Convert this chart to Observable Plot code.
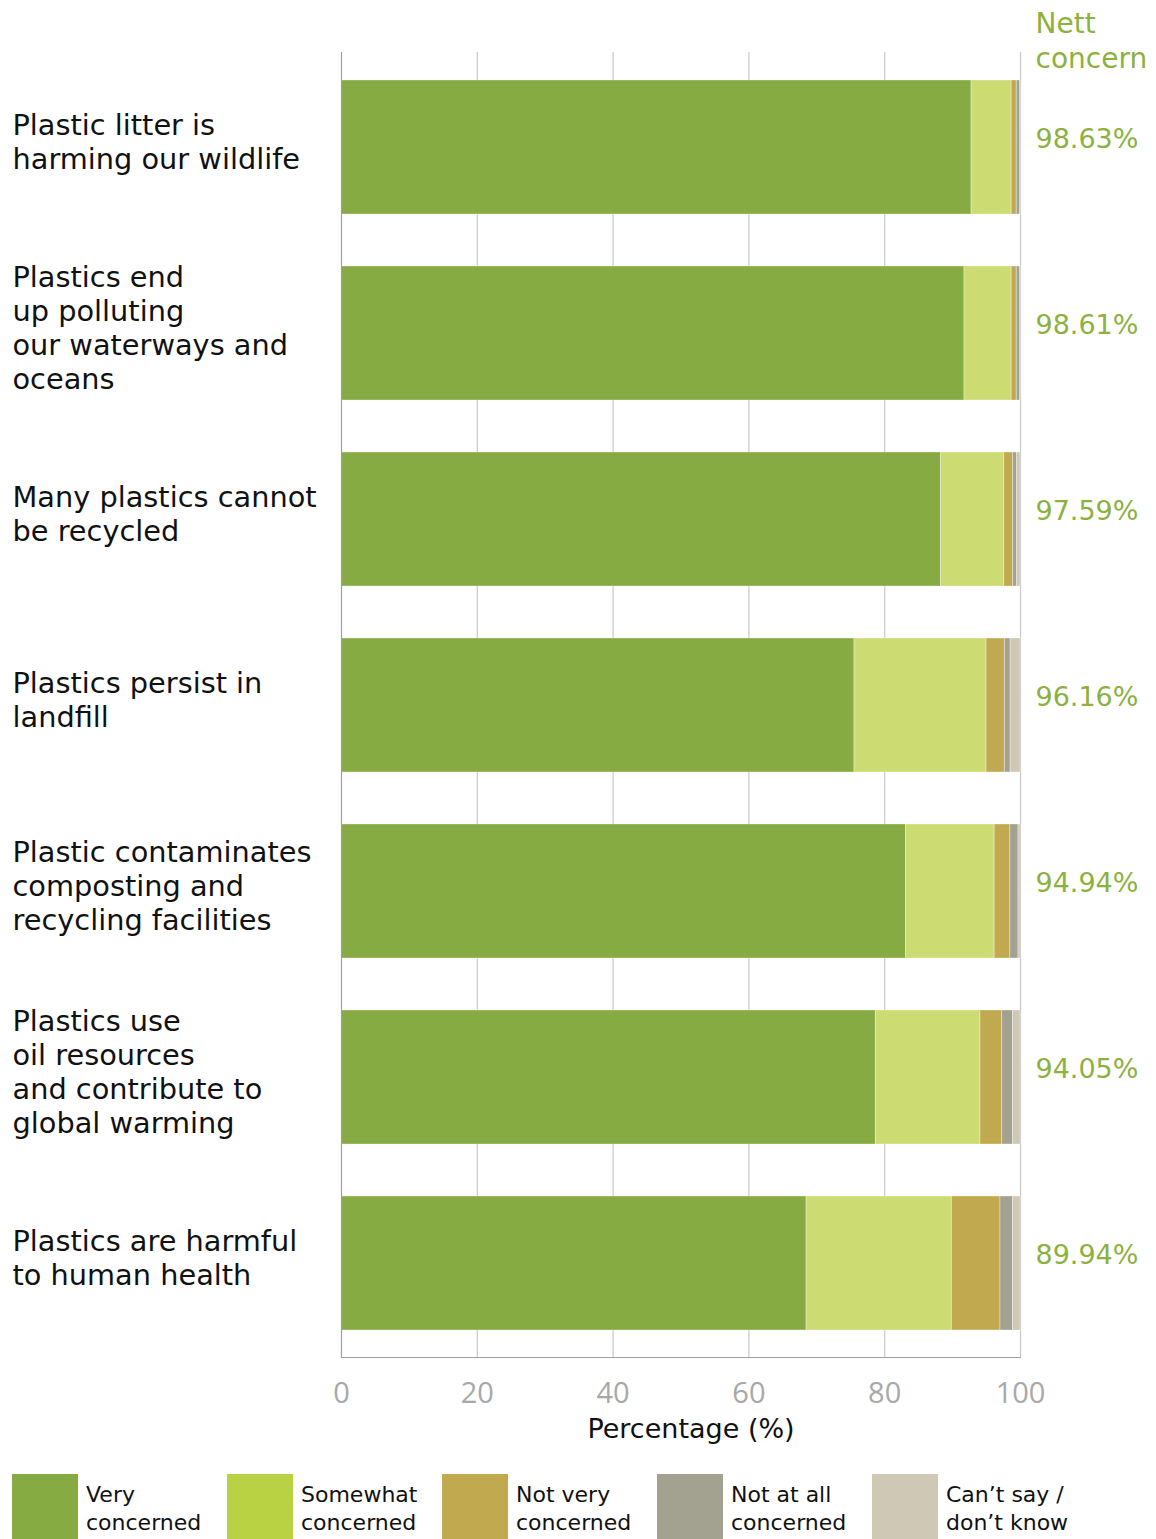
<!DOCTYPE html>
<html>
<head>
<meta charset="utf-8">
<script src="https://cdn.jsdelivr.net/npm/d3@7"></script>
<script src="https://cdn.jsdelivr.net/npm/@observablehq/plot@0.6"></script>
<style>
  body { margin: 0; background: #fff; font-family: "DejaVu Sans", sans-serif; }
  #legend { display: flex; margin-top: 19px; padding-left: 12px; }
  .item { display: flex; width: 215px; align-items: flex-start; }
  .sw { width: 66px; height: 66px; flex: none; }
  .lab { margin-left: 8px; font-size: 22px; line-height: 28px; color: #111; margin-top: 7px; font-family: "DejaVu Sans", sans-serif; }
</style>
</head>
<body>
<div id="chart"></div>
<div id="legend"></div>
<script>
const categories = [
  "Plastic litter is\nharming our wildlife",
  "Plastics end\nup polluting\nour waterways and\noceans",
  "Many plastics cannot\nbe recycled",
  "Plastics persist in\nlandfill",
  "Plastic contaminates\ncomposting and\nrecycling facilities",
  "Plastics use\noil resources\nand contribute to\nglobal warming",
  "Plastics are harmful\nto human health"
];
const responses = ["Very concerned", "Somewhat concerned", "Not very concerned", "Not at all concerned", "Can’t say / don’t know"];
const legendLabels = ["Very\nconcerned", "Somewhat\nconcerned", "Not very\nconcerned", "Not at all\nconcerned", "Can’t say /\ndon’t know"];
const veryConcerned     = [92.8, 91.75, 88.3, 75.55, 83.15, 78.7, 68.5];
const somewhatConcerned = [5.9, 6.95, 9.3, 19.45, 13.05, 15.4, 21.4];
const notVeryConcerned  = [0.75, 0.75, 1.3, 2.7, 2.3, 3.2, 7.15];
const notAtAllConcerned = [0.5, 0.5, 0.6, 0.85, 1.2, 1.6, 1.85];
const cantSay           = [0.05, 0.05, 0.5, 1.45, 0.3, 1.1, 1.1];
const nettConcern = ["98.63%", "98.61%", "97.59%", "96.16%", "94.94%", "94.05%", "89.94%"];
const xTicks = [0, 20, 40, 60, 80, 100];

const barColors = ["#87ab43", "#ccdb72", "#c1a94f", "#a3a190", "#cfc8b4"];
const legendColors = ["#87ab43", "#b8d243", "#c1a94f", "#a3a190", "#cfc8b4"];
const green = "#8db13f";

const series = [veryConcerned, somewhatConcerned, notVeryConcerned, notAtAllConcerned, cantSay];
const data = [];
categories.forEach((c, i) => {
  responses.forEach((r, j) => data.push({category: c, response: r, value: series[j][i]}));
});

const chart = Plot.plot({
  width: 1156,
  height: 1455,
  marginTop: 52,
  marginBottom: 98,
  marginLeft: 341,
  marginRight: 136,
  style: {fontFamily: "DejaVu Sans, sans-serif", background: "#fff"},
  x: {domain: [0, 100]},
  y: {domain: categories, paddingInner: 0.28, paddingOuter: 0.14, axis: null},
  color: {domain: responses, range: barColors},
  marks: [
    Plot.gridX(xTicks.slice(1), {stroke: "#c8c8c8", strokeOpacity: 1, strokeWidth: 1.2}),
    Plot.barX(data, {x: "value", y: "category", fill: "response", stroke: "#ffffff", strokeOpacity: 0.35, strokeWidth: 1}),
    Plot.ruleX([0], {stroke: "#a0a0a0", strokeWidth: 1.2}),
    Plot.frame({anchor: "bottom", stroke: "#a0a0a0", strokeWidth: 1.2}),
    Plot.axisX({ticks: xTicks, tickSize: 0, tickPadding: 25, fontSize: 29, fill: "#a8a8a8", label: null, fontFamily: "Open Sans, sans-serif"}),
    Plot.text(["Percentage (%)"], {frameAnchor: "bottom", dy: 80, dx: 10, fontSize: 27, fill: "#111"}),
    Plot.text(categories, {y: d => d, text: d => d, frameAnchor: "left", textAnchor: "start", dx: -329, dy: -6, fontSize: 28.8, lineHeight: 1.18, fill: "#111"}),
    Plot.text(categories, {y: d => d, text: (d, i) => nettConcern[i], frameAnchor: "right", textAnchor: "start", dx: 15, dy: -8, fontSize: 27, fill: green}),
    Plot.text(["Nett\nconcern"], {frameAnchor: "top-right", textAnchor: "start", lineAnchor: "middle", dx: 15, dy: -13, fontSize: 28, lineHeight: 1.25, fill: green})
  ]
});
document.getElementById("chart").appendChild(chart);

const legend = document.getElementById("legend");
responses.forEach((r, i) => {
  const item = document.createElement("div");
  item.className = "item";
  const sw = document.createElement("div");
  sw.className = "sw";
  sw.style.background = legendColors[i];
  const lab = document.createElement("div");
  lab.className = "lab";
  lab.innerHTML = legendLabels[i].replace("\n", "<br>");
  item.appendChild(sw);
  item.appendChild(lab);
  legend.appendChild(item);
});
</script>
</body>
</html>
